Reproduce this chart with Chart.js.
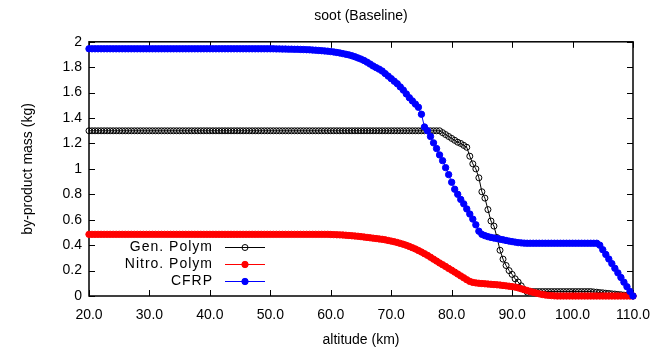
<!DOCTYPE html>
<html>
<head>
<meta charset="utf-8">
<script src="https://cdn.jsdelivr.net/npm/chart.js@4.4.1/dist/chart.umd.min.js"></script>
<style>
    html, body { margin: 0; padding: 0; background: #fff; }
</style>
</head>
<body>
<canvas id="sootChart" width="657" height="349"></canvas>
<script>
// altitude (km), one sample every 0.5 km
const altitude = [
    20, 20.5, 21, 21.5, 22, 22.5, 23, 23.5, 24, 24.5,
    25, 25.5, 26, 26.5, 27, 27.5, 28, 28.5, 29, 29.5,
    30, 30.5, 31, 31.5, 32, 32.5, 33, 33.5, 34, 34.5,
    35, 35.5, 36, 36.5, 37, 37.5, 38, 38.5, 39, 39.5,
    40, 40.5, 41, 41.5, 42, 42.5, 43, 43.5, 44, 44.5,
    45, 45.5, 46, 46.5, 47, 47.5, 48, 48.5, 49, 49.5,
    50, 50.5, 51, 51.5, 52, 52.5, 53, 53.5, 54, 54.5,
    55, 55.5, 56, 56.5, 57, 57.5, 58, 58.5, 59, 59.5,
    60, 60.5, 61, 61.5, 62, 62.5, 63, 63.5, 64, 64.5,
    65, 65.5, 66, 66.5, 67, 67.5, 68, 68.5, 69, 69.5,
    70, 70.5, 71, 71.5, 72, 72.5, 73, 73.5, 74, 74.5,
    75, 75.5, 76, 76.5, 77, 77.5, 78, 78.5, 79, 79.5,
    80, 80.5, 81, 81.5, 82, 82.5, 83, 83.5, 84, 84.5,
    85, 85.5, 86, 86.5, 87, 87.5, 88, 88.5, 89, 89.5,
    90, 90.5, 91, 91.5, 92, 92.5, 93, 93.5, 94, 94.5,
    95, 95.5, 96, 96.5, 97, 97.5, 98, 98.5, 99, 99.5,
    100, 100.5, 101, 101.5, 102, 102.5, 103, 103.5, 104, 104.5,
    105, 105.5, 106, 106.5, 107, 107.5, 108, 108.5, 109, 109.5,
    110
];

// by-product mass (kg)
const genPolym = [
    1.3, 1.3, 1.3, 1.3, 1.3, 1.3, 1.3, 1.3, 1.3, 1.3,
    1.3, 1.3, 1.3, 1.3, 1.3, 1.3, 1.3, 1.3, 1.3, 1.3,
    1.3, 1.3, 1.3, 1.3, 1.3, 1.3, 1.3, 1.3, 1.3, 1.3,
    1.3, 1.3, 1.3, 1.3, 1.3, 1.3, 1.3, 1.3, 1.3, 1.3,
    1.3, 1.3, 1.3, 1.3, 1.3, 1.3, 1.3, 1.3, 1.3, 1.3,
    1.3, 1.3, 1.3, 1.3, 1.3, 1.3, 1.3, 1.3, 1.3, 1.3,
    1.3, 1.3, 1.3, 1.3, 1.3, 1.3, 1.3, 1.3, 1.3, 1.3,
    1.3, 1.3, 1.3, 1.3, 1.3, 1.3, 1.3, 1.3, 1.3, 1.3,
    1.3, 1.3, 1.3, 1.3, 1.3, 1.3, 1.3, 1.3, 1.3, 1.3,
    1.3, 1.3, 1.3, 1.3, 1.3, 1.3, 1.3, 1.3, 1.3, 1.3,
    1.3, 1.3, 1.3, 1.3, 1.3, 1.3, 1.3, 1.3, 1.3, 1.3,
    1.3, 1.3, 1.3, 1.3, 1.3, 1.3, 1.3, 1.285, 1.27, 1.255,
    1.24, 1.225, 1.21, 1.2, 1.185, 1.17, 1.1, 1.04, 1.0, 0.93,
    0.82, 0.77, 0.68, 0.59, 0.55, 0.46, 0.36, 0.29, 0.24, 0.2,
    0.17, 0.135, 0.11, 0.08, 0.05, 0.03, 0.035, 0.035, 0.035, 0.035,
    0.035, 0.035, 0.035, 0.035, 0.035, 0.035, 0.035, 0.035, 0.035, 0.035,
    0.035, 0.035, 0.035, 0.035, 0.035, 0.035, 0.035, 0.032, 0.03, 0.027,
    0.025, 0.022, 0.02, 0.017, 0.015, 0.012, 0.01, 0.007, 0.005, 0.003,
    0
];

const nitroPolym = [
    0.485, 0.485, 0.485, 0.485, 0.485, 0.485, 0.485, 0.485, 0.485, 0.485,
    0.485, 0.485, 0.485, 0.485, 0.485, 0.485, 0.485, 0.485, 0.485, 0.485,
    0.485, 0.485, 0.485, 0.485, 0.485, 0.485, 0.485, 0.485, 0.485, 0.485,
    0.485, 0.485, 0.485, 0.485, 0.485, 0.485, 0.485, 0.485, 0.485, 0.485,
    0.485, 0.485, 0.485, 0.485, 0.485, 0.485, 0.485, 0.485, 0.485, 0.485,
    0.485, 0.485, 0.485, 0.485, 0.485, 0.485, 0.485, 0.485, 0.485, 0.485,
    0.485, 0.485, 0.485, 0.485, 0.485, 0.485, 0.485, 0.485, 0.485, 0.485,
    0.485, 0.485, 0.485, 0.485, 0.485, 0.485, 0.485, 0.485, 0.485, 0.485,
    0.484, 0.483, 0.482, 0.481, 0.48, 0.478, 0.476, 0.474, 0.472, 0.47,
    0.467, 0.464, 0.461, 0.458, 0.455, 0.452, 0.449, 0.446, 0.442, 0.437,
    0.432, 0.427, 0.421, 0.414, 0.407, 0.399, 0.39, 0.38, 0.37, 0.358,
    0.346, 0.333, 0.32, 0.305, 0.29, 0.275, 0.26, 0.246, 0.232, 0.217,
    0.203, 0.188, 0.173, 0.158, 0.143, 0.128, 0.115, 0.107, 0.103, 0.1,
    0.098, 0.096, 0.094, 0.092, 0.09, 0.088, 0.086, 0.083, 0.08, 0.077,
    0.074, 0.07, 0.064, 0.057, 0.05, 0.043, 0.036, 0.029, 0.023, 0.017,
    0.012, 0.008, 0.005, 0.003, 0.001, 0, 0, 0, 0, 0,
    0, 0, 0, 0, 0, 0, 0, 0, 0, 0,
    0, 0, 0, 0, 0, 0, 0, 0, 0, 0,
    0
];

const cfrp = [
    1.945, 1.945, 1.945, 1.945, 1.945, 1.945, 1.945, 1.945, 1.945, 1.945,
    1.945, 1.945, 1.945, 1.945, 1.945, 1.945, 1.945, 1.945, 1.945, 1.945,
    1.945, 1.945, 1.945, 1.945, 1.945, 1.945, 1.945, 1.945, 1.945, 1.945,
    1.945, 1.945, 1.945, 1.945, 1.945, 1.945, 1.945, 1.945, 1.945, 1.945,
    1.945, 1.945, 1.945, 1.945, 1.945, 1.945, 1.945, 1.945, 1.945, 1.945,
    1.945, 1.945, 1.945, 1.945, 1.945, 1.945, 1.945, 1.945, 1.945, 1.945,
    1.945, 1.945, 1.944, 1.944, 1.943, 1.943, 1.942, 1.942, 1.941, 1.941,
    1.94, 1.939, 1.938, 1.937, 1.935, 1.934, 1.932, 1.93, 1.928, 1.926,
    1.923, 1.92, 1.916, 1.912, 1.907, 1.902, 1.897, 1.89, 1.882, 1.873,
    1.864, 1.853, 1.84, 1.825, 1.81, 1.797, 1.785, 1.77, 1.75, 1.73,
    1.71, 1.69, 1.67, 1.645, 1.62, 1.59, 1.56, 1.535, 1.51, 1.485,
    1.43, 1.33, 1.3, 1.255, 1.205, 1.16, 1.11, 1.065, 1.01, 0.955,
    0.895, 0.84, 0.8, 0.76, 0.725, 0.685, 0.645, 0.605, 0.56, 0.51,
    0.485, 0.475, 0.467, 0.461, 0.456, 0.452, 0.447, 0.442, 0.437, 0.432,
    0.428, 0.424, 0.42, 0.418, 0.416, 0.415, 0.415, 0.415, 0.415, 0.415,
    0.415, 0.415, 0.415, 0.415, 0.415, 0.415, 0.415, 0.415, 0.415, 0.415,
    0.415, 0.415, 0.415, 0.415, 0.415, 0.415, 0.415, 0.415, 0.415, 0.4,
    0.364, 0.327, 0.291, 0.255, 0.218, 0.182, 0.146, 0.109, 0.073, 0.036,
    0
];

const xTicks = [20, 30, 40, 50, 60, 70, 80, 90, 100, 110];
const yTicks = [0, 0.2, 0.4, 0.6, 0.8, 1, 1.2, 1.4, 1.6, 1.8, 2];

const FONT = "'Liberation Sans', Arial, sans-serif";

function toPoints(values) {
    return values.map((v, i) => ({ x: altitude[i], y: v }));
}

// box round the plot, with tick marks pointing inward on all four sides
const frameTicks = {
    id: 'frameTicks',
    beforeDatasetsDraw(chart) {
        const { ctx, chartArea: a, scales } = chart;
        const len = 6;
        ctx.save();
        ctx.strokeStyle = '#000';
        ctx.lineWidth = 1;
        ctx.beginPath();
        xTicks.forEach(v => {
            const px = Math.round(scales.x.getPixelForValue(v)) + 0.5;
            ctx.moveTo(px, a.bottom);
            ctx.lineTo(px, a.bottom - len);
            ctx.moveTo(px, a.top);
            ctx.lineTo(px, a.top + len);
        });
        yTicks.forEach(v => {
            const py = Math.round(scales.y.getPixelForValue(v)) + 0.5;
            ctx.moveTo(a.left, py);
            ctx.lineTo(a.left + len, py);
            ctx.moveTo(a.right, py);
            ctx.lineTo(a.right - len, py);
        });
        ctx.stroke();
        ctx.lineWidth = 1.5;
        ctx.strokeRect(a.left, a.top, a.right - a.left, a.bottom - a.top);
        ctx.restore();
    }
};

// gnuplot style key: label right aligned, then line sample with marker
const keyBox = {
    id: 'keyBox',
    afterDraw(chart) {
        const { ctx } = chart;
        const textRight = 213;
        const lineStart = 225;
        const lineEnd = 265;
        const rows = [247, 264, 281];
        ctx.save();
        ctx.font = '14px ' + FONT;
        ctx.letterSpacing = '1px';
        ctx.textAlign = 'right';
        ctx.textBaseline = 'middle';
        chart.data.datasets.forEach((ds, i) => {
            const y = rows[i];
            ctx.fillStyle = '#000';
            ctx.fillText(ds.label, textRight, y);
            ctx.strokeStyle = ds.borderColor;
            ctx.lineWidth = 1;
            ctx.beginPath();
            ctx.moveTo(lineStart, y + 0.5);
            ctx.lineTo(lineEnd, y + 0.5);
            ctx.stroke();
            ctx.beginPath();
            ctx.arc((lineStart + lineEnd) / 2, y + 0.5, ds.pointRadius, 0, Math.PI * 2);
            ctx.fillStyle = ds.pointBackgroundColor;
            ctx.fill();
            ctx.strokeStyle = ds.pointBorderColor;
            ctx.stroke();
        });
        ctx.restore();
    }
};

new Chart(document.getElementById('sootChart'), {
    type: 'line',
    data: {
        datasets: [
            {
                label: 'Gen. Polym',
                data: toPoints(genPolym),
                borderColor: '#000000',
                borderWidth: 1,
                pointRadius: 3,
                pointBorderWidth: 1,
                pointBackgroundColor: 'rgba(0,0,0,0)',
                pointBorderColor: '#000000',
                tension: 0,
                clip: false,
                order: 3
            },
            {
                label: 'Nitro. Polym',
                data: toPoints(nitroPolym),
                borderColor: '#ff0000',
                borderWidth: 1,
                pointRadius: 3.2,
                pointBorderWidth: 1,
                pointBackgroundColor: '#ff0000',
                pointBorderColor: '#ff0000',
                tension: 0,
                clip: false,
                order: 2
            },
            {
                label: 'CFRP',
                data: toPoints(cfrp),
                borderColor: '#0000ff',
                borderWidth: 1,
                pointRadius: 3.2,
                pointBorderWidth: 1,
                pointBackgroundColor: '#0000ff',
                pointBorderColor: '#0000ff',
                tension: 0,
                clip: false,
                order: 1
            }
        ]
    },
    options: {
        responsive: false,
        animation: false,
        devicePixelRatio: 1,
        layout: { padding: { left: 0, right: 24, top: 0, bottom: 0 } },
        plugins: {
            legend: { display: false },
            tooltip: { enabled: false },
            title: {
                display: true,
                text: 'soot (Baseline)',
                fullSize: false,
                color: '#000',
                font: { family: FONT, size: 14, weight: 'normal' },
                padding: { top: 8, bottom: 17 }
            }
        },
        scales: {
            x: {
                type: 'linear',
                min: 20,
                max: 110,
                afterBuildTicks: scale => { scale.ticks = xTicks.map(v => ({ value: v })); },
                afterFit: scale => {
                    scale.height = 53;
                    scale.paddingLeft = 0;
                    scale.paddingRight = 0;
                },
                grid: { display: false, drawTicks: false },
                border: { display: false },
                ticks: {
                    autoSkip: false,
                    maxRotation: 0,
                    padding: 11,
                    color: '#000',
                    font: { family: FONT, size: 14 },
                    callback: v => Number(v).toFixed(1)
                },
                title: {
                    display: true,
                    text: 'altitude (km)',
                    color: '#000',
                    font: { family: FONT, size: 14 },
                    padding: { top: 6, bottom: 0 }
                }
            },
            y: {
                min: 0,
                max: 2,
                afterBuildTicks: scale => { scale.ticks = yTicks.map(v => ({ value: v })); },
                afterFit: scale => { scale.width = 89; },
                grid: { display: false, drawTicks: false },
                border: { display: false },
                ticks: {
                    autoSkip: false,
                    padding: 7,
                    color: '#000',
                    font: { family: FONT, size: 14 },
                    callback: v => String(Number(Number(v).toFixed(1)))
                },
                title: {
                    display: true,
                    text: 'by-product mass (kg)',
                    color: '#000',
                    font: { family: FONT, size: 14 },
                    padding: { top: 20, bottom: 0 }
                }
            }
        }
    },
    plugins: [frameTicks, keyBox]
});
</script>
</body>
</html>
